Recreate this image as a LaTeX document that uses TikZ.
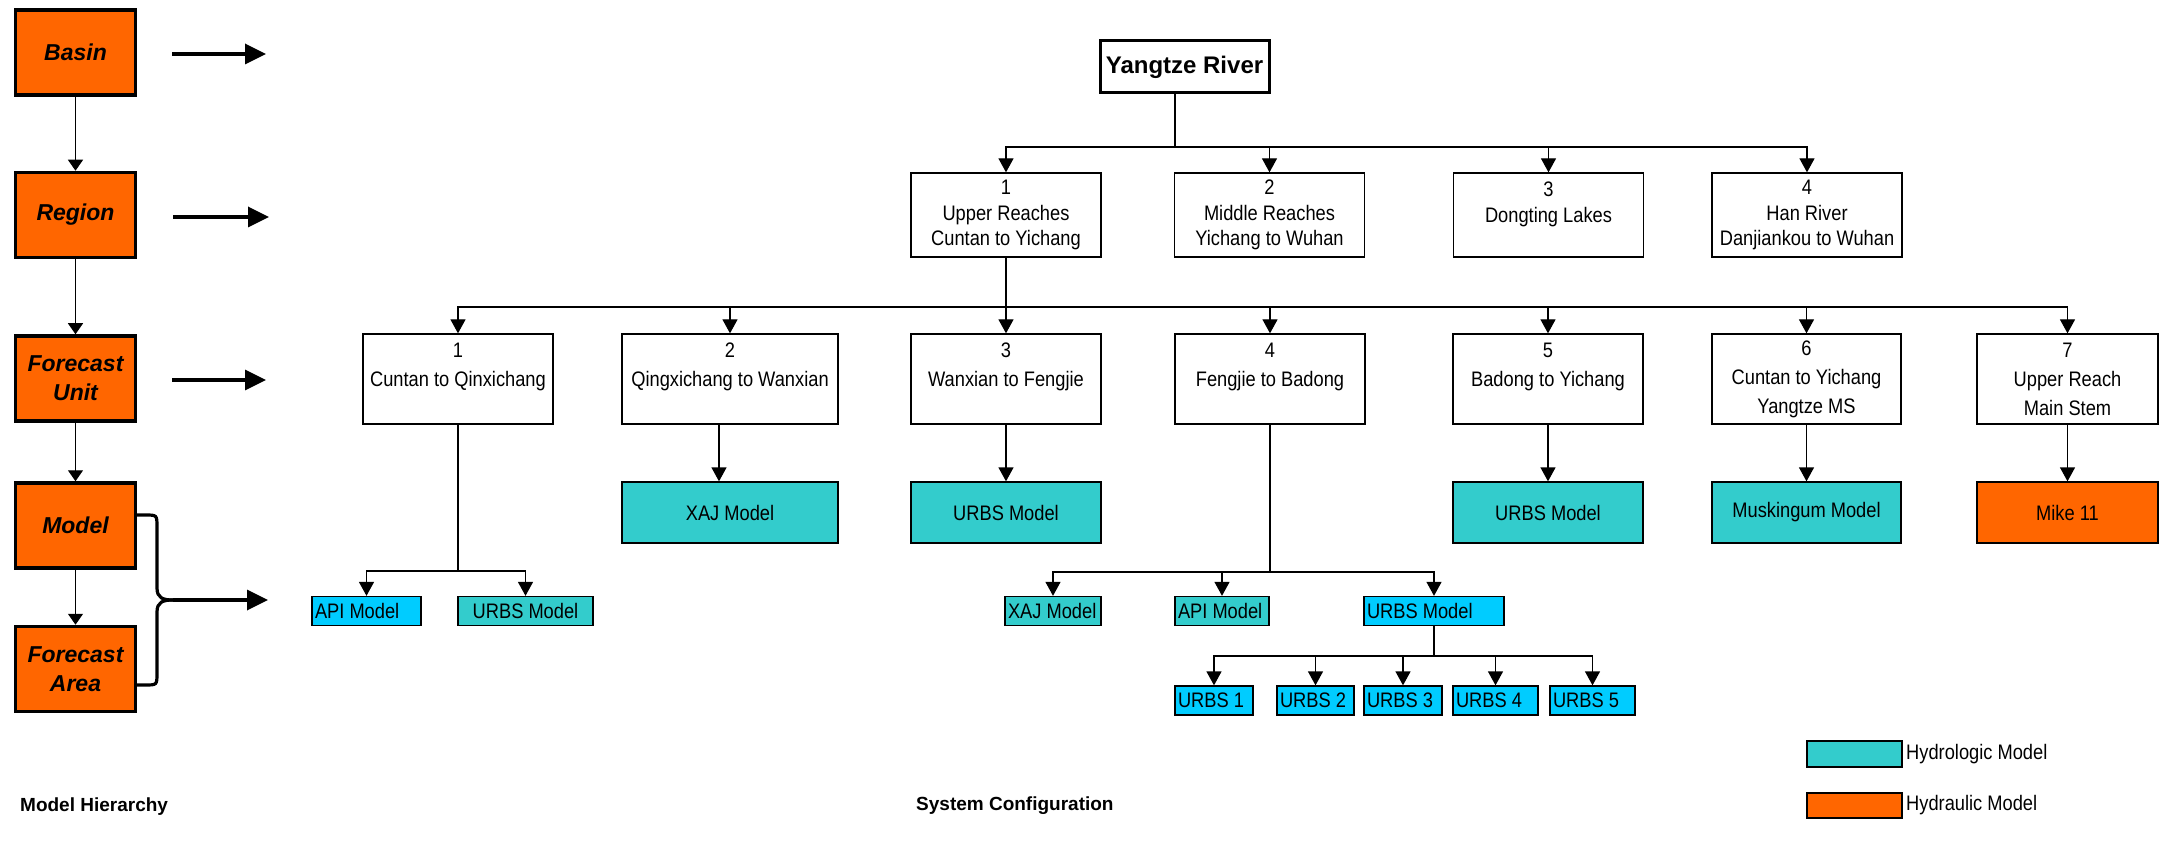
\documentclass[tikz,border=0pt]{standalone}
\usepackage{fontspec}
\setmainfont{Liberation Sans}
\newfontfamily\narrowfont[FakeStretch=0.87]{Liberation Sans}
\usetikzlibrary{arrows.meta}
\definecolor{hyorange}{HTML}{FF6600}
\definecolor{hyteal}{HTML}{33CCCC}
\definecolor{hycyan}{HTML}{00CCFF}
\newcommand{\leftbx}[2]{\makebox[#1][l]{#2}}
\begin{document}
\begin{tikzpicture}[x=1pt,y=-1pt,
  line/.style={line width=1.3pt},
  conn/.style={line width=1.3pt,-{Triangle[length=14pt,width=15pt]}},
  leftconn/.style={line width=1.3pt,-{Triangle[length=11pt,width=15pt]}},
  bigarr/.style={line width=3.5pt,-{Triangle[length=21pt,width=20pt]}},
  bracestyle/.style={line width=3.2pt},
  lvlbox/.style={draw, line width=3.5pt, fill=hyorange, minimum width=120pt, minimum height=85pt, font=\fontsize{23}{29}\selectfont\bfseries\itshape, align=center, inner sep=0pt},
  regbox/.style={draw, line width=1.3pt, fill=white, minimum width=190pt, minimum height=84pt, font=\narrowfont\fontsize{21}{25.5}\selectfont, align=center, inner xsep=2pt},
  fubox/.style={draw, line width=1.3pt, fill=white, minimum height=90pt, font=\narrowfont\fontsize{21}{29}\selectfont, align=center, inner xsep=2pt},
  mdbox/.style={draw, line width=1.3pt, fill=hyteal, minimum height=61pt, font=\narrowfont\fontsize{21}{24}\selectfont},
  smbox/.style={draw, line width=1.3pt, minimum height=29pt, inner xsep=3pt, inner ysep=0pt, font=\narrowfont\fontsize{21}{24}\selectfont},
  lbl/.style={font=\fontsize{19}{22}\selectfont\bfseries, anchor=west, inner sep=0pt},
  lgtext/.style={font=\narrowfont\fontsize{21}{24}\selectfont, anchor=west, inner sep=0pt},
]
\useasboundingbox[fill=white] (0,0) rectangle (2164,842);

% ---------- Model hierarchy (left) ----------
\node[lvlbox] (basin) at (75.5,52.5) {Basin};
\node[lvlbox] (region) at (75.5,215) {Region};
\node[lvlbox] (funit) at (75.5,378.5) {Forecast\\Unit};
\node[lvlbox] (model) at (75.5,525.5) {Model};
\node[lvlbox] (farea) at (75.5,669) {Forecast\\Area};

\draw[leftconn] (basin.south) -- (region.north);
\draw[leftconn] (region.south) -- (funit.north);
\draw[leftconn] (funit.south) -- (model.north);
\draw[leftconn] (model.south) -- (farea.north);

\coordinate (a1s) at (172,54);  \coordinate (a1e) at (266,54);
\coordinate (a2s) at (173,217); \coordinate (a2e) at (269,217);
\coordinate (a3s) at (172,380); \coordinate (a3e) at (266,380);
\coordinate (tip) at (173,600); \coordinate (tipe) at (268,600);
\draw[bigarr] (a1s) -- (a1e);
\draw[bigarr] (a2s) -- (a2e);
\draw[bigarr] (a3s) -- (a3e);

% brace
\draw[bracestyle] (137,515) -- (145,515) .. controls (157,515) .. (157,527) -- (157,588)
   .. controls (157,598) and (163,600) .. (tip);
\draw[bracestyle] (tip) .. controls (163,600) and (157,602) .. (157,612) -- (157,673)
   .. controls (157,685) .. (145,685) -- (137,685);
\draw[bigarr] (tip) -- (tipe);

\node[lbl] (mh) at (20,807) {Model Hierarchy};

% ---------- System configuration ----------
\node[draw, line width=3pt, minimum width=169pt, minimum height=52pt, font=\fontsize{24}{28}\selectfont\bfseries] (yr) at (1184.5,67) {Yangtze River};

\node[regbox] (r1) at (1006,215) {1\\Upper Reaches\\Cuntan to Yichang};
\node[regbox] (r2) at (1269.5,215) {2\\Middle Reaches\\Yichang to Wuhan};
\node[regbox] (r3) at (1548.5,215) {3\\Dongting Lakes\\~};
\node[regbox] (r4) at (1807,215) {4\\Han River\\Danjiankou to Wuhan};

\coordinate (busA) at (1175,147);
\draw[line] (yr.south -| busA) -- (busA);
\foreach \r in {r1,r2,r3,r4} \draw[conn] (busA) -| (\r.north);

\node[fubox, minimum width=190pt] (fu1) at (458,379) {1\\Cuntan to Qinxichang\\~};
\node[fubox, minimum width=216pt] (fu2) at (730,379) {2\\Qingxichang to Wanxian\\~};
\node[fubox, minimum width=190pt] (fu3) at (1006,379) {3\\Wanxian to Fengjie\\~};
\node[fubox, minimum width=190pt] (fu4) at (1270,379) {4\\Fengjie to Badong\\~};
\node[fubox, minimum width=190pt] (fu5) at (1548,379) {5\\Badong to Yichang\\~};
\node[fubox, minimum width=189pt] (fu6) at (1806.5,379) {6\\Cuntan to Yichang\\Yangtze MS};
\node[fubox, minimum width=181pt] (fu7) at (2067.5,379) {7\\Upper Reach\\Main Stem};

\coordinate (busB) at (1006,307);
\draw[line] (r1.south) -- (busB);
\foreach \n in {fu1,fu2,fu3,fu4,fu5,fu6,fu7} \draw[conn] (busB) -| (\n.north);

\node[mdbox, minimum width=216pt] (m2) at (730,512.5) {XAJ Model};
\node[mdbox, minimum width=190pt] (m3) at (1006,512.5) {URBS Model};
\node[mdbox, minimum width=190pt] (m5) at (1548,512.5) {URBS Model};
\node[mdbox, minimum width=189pt] (m6) at (1806.5,512.5) {Muskingum Model};
\node[mdbox, minimum width=181pt, fill=hyorange] (m7) at (2067.5,512.5) {Mike 11};

\draw[conn] ([xshift=-11pt]fu2.south) -- ([xshift=-11pt]m2.north);
\draw[conn] (fu3.south) -- (m3.north);
\draw[conn] (fu5.south) -- (m5.north);
\draw[conn] (fu6.south) -- (m6.north);
\draw[conn] (fu7.south) -- (m7.north);

% forecast areas under unit 1
\node[smbox, fill=hycyan] (apiA) at (366.5,611) {\leftbx{103pt}{API Model}};
\node[smbox, fill=hyteal] (urbsA) at (525.5,611) {\makebox[129pt][c]{URBS Model}};
\coordinate (busC) at (458,571);
\draw[line] (fu1.south) -- (busC);
\draw[conn] (busC) -| (apiA.north);
\draw[conn] (busC) -| (urbsA.north);

% forecast areas under unit 4
\node[smbox, fill=hyteal] (xajB) at (1053,611) {\leftbx{90pt}{XAJ Model}};
\node[smbox, fill=hyteal] (apiB) at (1222,611) {\leftbx{88pt}{API Model}};
\node[smbox, fill=hycyan] (urbsB) at (1434,611) {\leftbx{134pt}{URBS Model}};
\coordinate (busD) at (1270,572);
\draw[line] (fu4.south) -- (busD);
\draw[conn] (busD) -| (xajB.north);
\draw[conn] (busD) -| (apiB.north);
\draw[conn] (busD) -| (urbsB.north);

\node[smbox, fill=hycyan] (u1) at (1214,700.5) {\leftbx{72pt}{URBS 1}};
\node[smbox, fill=hycyan] (u2) at (1315.5,700.5) {\leftbx{71pt}{URBS 2}};
\node[smbox, fill=hycyan] (u3) at (1403,700.5) {\leftbx{72pt}{URBS 3}};
\node[smbox, fill=hycyan] (u4) at (1495.5,700.5) {\leftbx{79pt}{URBS 4}};
\node[smbox, fill=hycyan] (u5) at (1592.5,700.5) {\leftbx{79pt}{URBS 5}};
\coordinate (busE) at (1434,656);
\draw[line] (urbsB.south) -- (busE);
\foreach \u in {u1,u2,u3,u4,u5} \draw[conn] (busE) -| (\u.north);

\node[lbl] (sc) at (916,806) {System Configuration};

% legend
\node[draw, line width=1.3pt, fill=hyteal, minimum width=95pt, minimum height=26pt, inner sep=0pt] (lg1) at (1854.5,754) {};
\node[lgtext] (lg1t) at (1906,754) {Hydrologic Model};
\node[draw, line width=1.3pt, fill=hyorange, minimum width=95pt, minimum height=25pt, inner sep=0pt] (lg2) at (1854.5,805.5) {};
\node[lgtext] (lg2t) at (1906,805.5) {Hydraulic Model};
\end{tikzpicture}
\end{document}
